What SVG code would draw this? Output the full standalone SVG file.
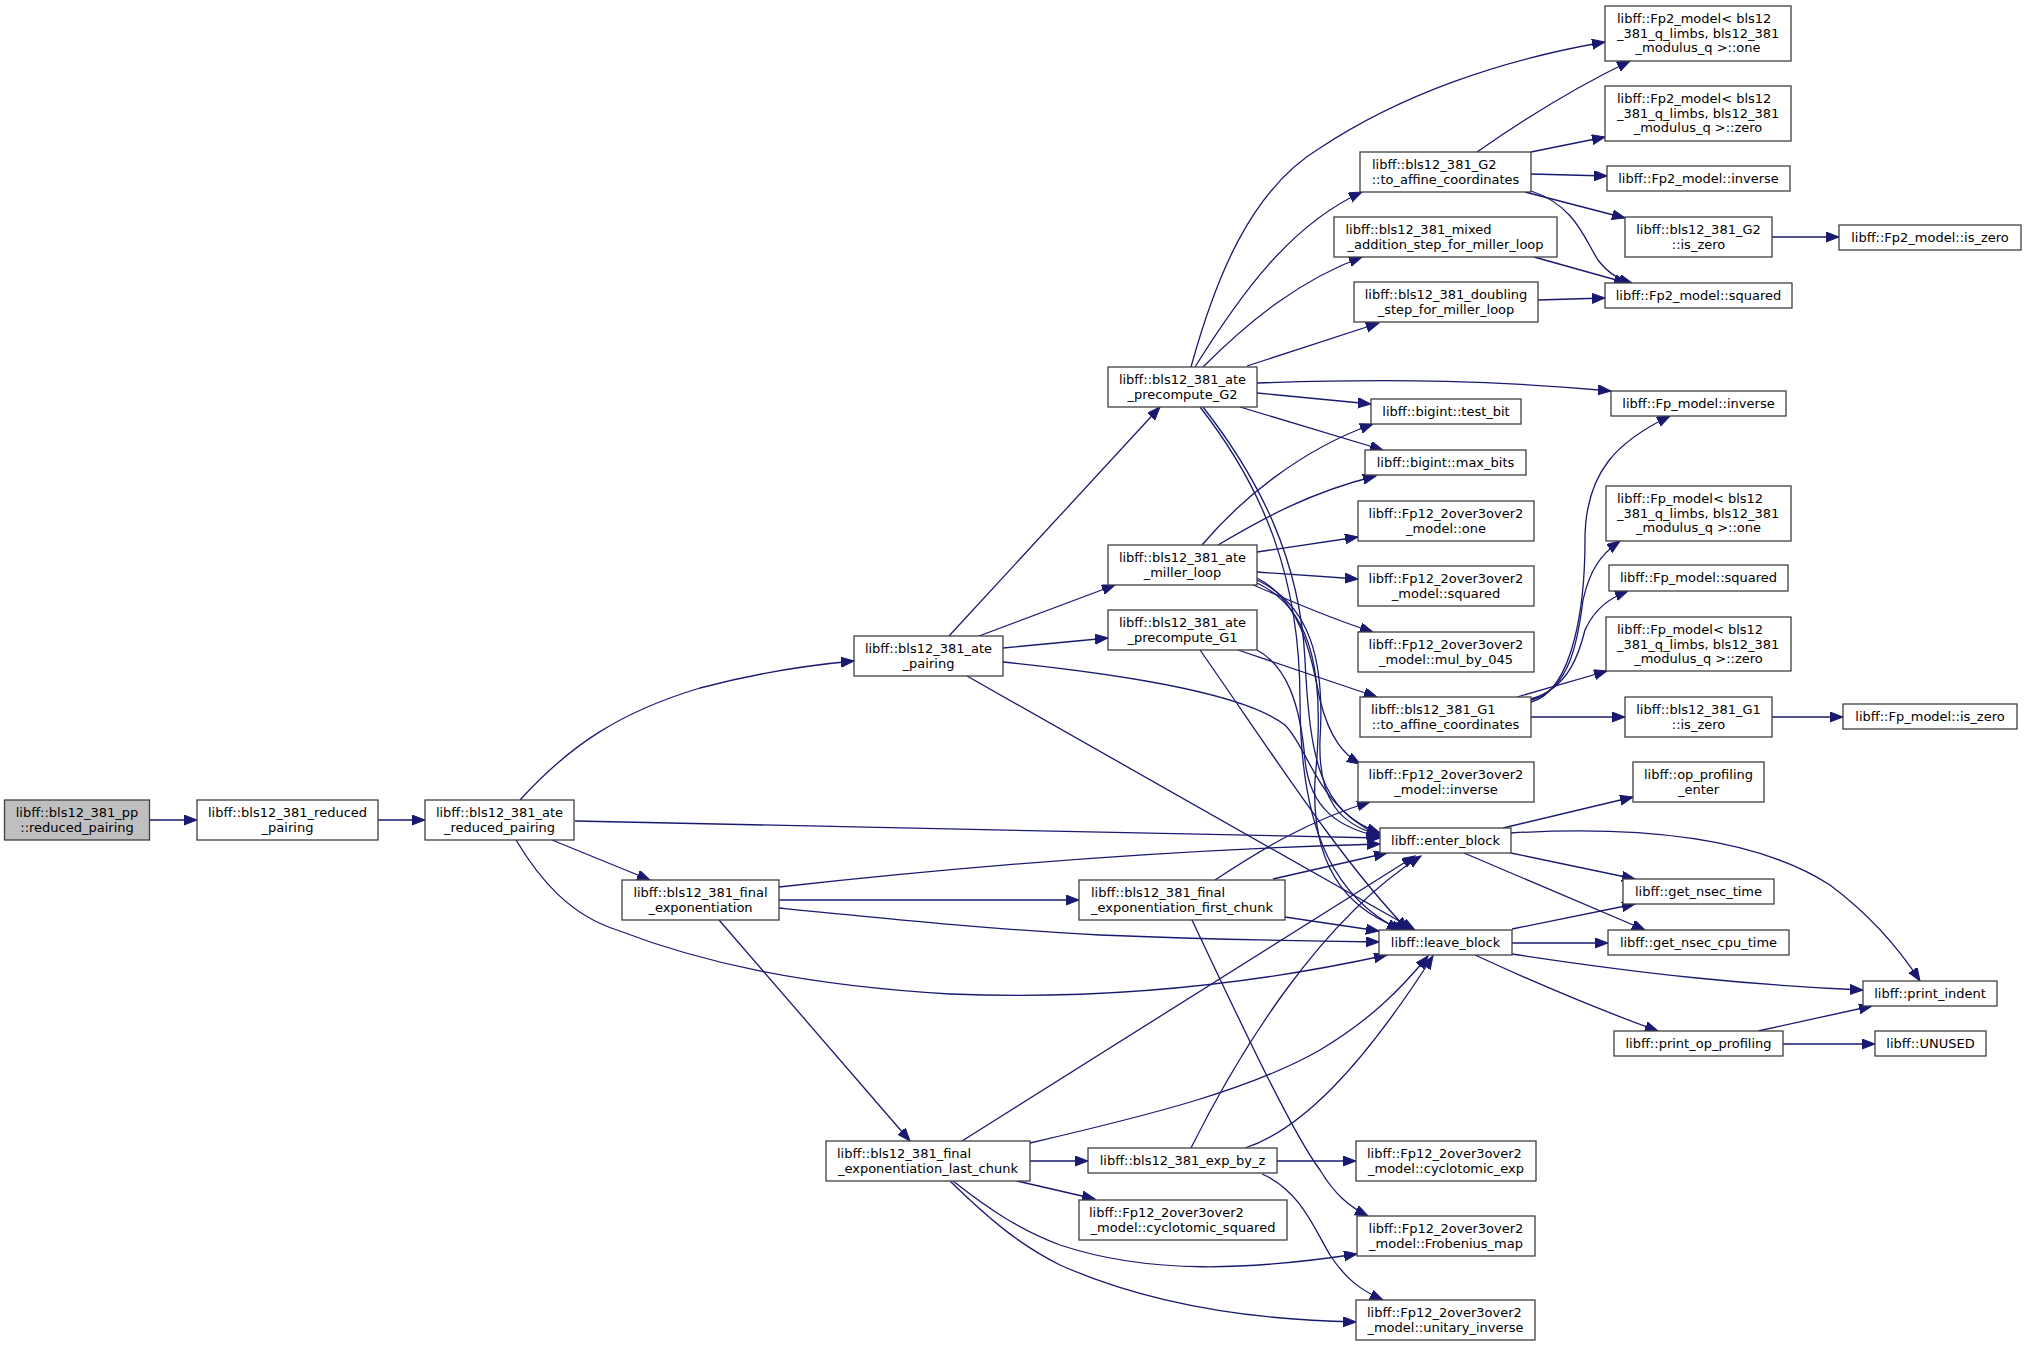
<svg xmlns="http://www.w3.org/2000/svg" width="2027" height="1346" viewBox="0 0 2027 1346">
<defs>
<marker id="ah" markerUnits="userSpaceOnUse" markerWidth="14" markerHeight="11" refX="13" refY="5" orient="auto">
<path d="M0,0 L13,5 L0,10 z" fill="#191970" stroke="#191970" stroke-width="1"/>
</marker>
<style>
rect{fill:#ffffff;stroke:#404040;stroke-width:1.3}
.root rect{fill:#bfbfbf}
text{font-family:"DejaVu Sans","Liberation Sans",sans-serif;font-size:13px;fill:#000000;text-anchor:middle}
text.l{text-anchor:start}
#edges path{fill:none;stroke:#191970;stroke-width:1.3;marker-end:url(#ah)}
</style>
</defs>
<rect x="0" y="0" width="2027" height="1346" style="fill:#ffffff;stroke:none"/>
<g id="edges">
<path d="M150,820 L197,820"/>
<path d="M378,820 L425,820"/>
<path d="M520,800 C570,745 620,712 700,688 C760,672 810,665 854,661"/>
<path d="M575,821 L1380,838"/>
<path d="M552,840 L650,880"/>
<path d="M516,840 C540,880 570,915 617,930 C700,962 800,985 950,994 C1100,1000 1250,985 1387,955"/>
<path d="M949,636 L1160,407"/>
<path d="M979,636 L1115,585"/>
<path d="M1003,648 L1108,638"/>
<path d="M1003,662 C1100,672 1240,690 1285,725 C1310,750 1315,805 1380,836"/>
<path d="M967,676 L1415,930"/>
<path d="M1191,367 C1215,280 1250,190 1320,148 C1400,95 1500,60 1605,42"/>
<path d="M1195,367 C1240,295 1290,225 1362,192"/>
<path d="M1203,367 C1250,320 1300,280 1362,257"/>
<path d="M1247,366 L1379,323"/>
<path d="M1257,383 C1400,378 1500,381 1611,391"/>
<path d="M1257,393 L1371,404"/>
<path d="M1240,407 L1383,450"/>
<path d="M1203,407 C1260,480 1300,560 1305,660 C1310,760 1320,812 1380,833"/>
<path d="M1200,407 C1265,490 1300,580 1300,700 C1300,840 1340,900 1400,930"/>
<path d="M1202,545 C1240,500 1300,450 1373,424"/>
<path d="M1218,545 C1260,520 1310,492 1376,476"/>
<path d="M1257,552 L1358,537"/>
<path d="M1257,572 L1358,579"/>
<path d="M1253,585 C1290,600 1320,615 1373,632"/>
<path d="M1257,578 C1300,600 1310,650 1320,700 C1330,740 1345,755 1360,764"/>
<path d="M1257,580 C1310,605 1325,660 1320,740 C1318,800 1340,825 1380,835"/>
<path d="M1257,583 C1315,610 1325,680 1315,780 C1310,880 1360,915 1405,930"/>
<path d="M1238,650 L1377,697"/>
<path d="M1257,650 C1285,665 1300,700 1305,760 C1310,810 1340,828 1380,837"/>
<path d="M1200,650 C1270,750 1340,860 1408,930"/>
<path d="M1477,152 C1530,115 1580,85 1630,61"/>
<path d="M1531,152 L1605,137"/>
<path d="M1531,174 L1607,176"/>
<path d="M1525,192 L1625,218"/>
<path d="M1531,191 C1575,205 1585,240 1598,260 C1608,273 1618,279 1632,283"/>
<path d="M1534,257 L1627,283"/>
<path d="M1538,300 L1605,298"/>
<path d="M1772,237 L1839,237"/>
<path d="M1531,702 C1575,690 1585,600 1585,540 C1585,470 1620,440 1670,416"/>
<path d="M1531,700 C1570,690 1578,640 1583,600 C1590,570 1600,555 1620,541"/>
<path d="M1531,699 C1570,688 1580,650 1585,630 C1595,608 1610,598 1628,591"/>
<path d="M1517,697 L1607,671"/>
<path d="M1531,717 L1625,717"/>
<path d="M1772,717 L1843,717"/>
<path d="M1503,828 L1633,797"/>
<path d="M1511,853 L1635,879"/>
<path d="M1464,853 L1645,930"/>
<path d="M1511,833 C1650,825 1760,840 1830,885 C1870,915 1900,950 1920,981"/>
<path d="M1512,929 L1635,904"/>
<path d="M1512,943 L1608,943"/>
<path d="M1512,954 C1650,975 1750,985 1863,990"/>
<path d="M1475,955 C1540,985 1600,1010 1658,1031"/>
<path d="M1758,1031 L1872,1006"/>
<path d="M1783,1044 L1875,1044"/>
<path d="M779,887 C950,868 1150,850 1380,844"/>
<path d="M779,900 L1079,900"/>
<path d="M779,908 C900,920 1000,930 1100,935 C1200,939 1300,941 1379,942"/>
<path d="M719,920 L910,1141"/>
<path d="M1215,880 C1260,850 1310,820 1370,802"/>
<path d="M1273,879 L1387,853"/>
<path d="M1285,917 L1379,931"/>
<path d="M1192,920 C1230,1000 1290,1130 1320,1170 C1335,1195 1350,1207 1368,1216"/>
<path d="M962,1141 L1415,856"/>
<path d="M1030,1143 C1150,1115 1250,1090 1320,1050 C1370,1020 1400,990 1428,956"/>
<path d="M1030,1161 L1088,1161"/>
<path d="M1017,1181 L1095,1199"/>
<path d="M953,1181 C990,1210 1020,1230 1060,1245 C1150,1275 1250,1270 1357,1254"/>
<path d="M950,1181 C990,1220 1020,1245 1060,1265 C1150,1305 1250,1320 1356,1322"/>
<path d="M1191,1148 C1240,1050 1320,920 1421,856"/>
<path d="M1245,1148 C1300,1130 1360,1070 1433,956"/>
<path d="M1277,1161 L1356,1161"/>
<path d="M1262,1174 C1300,1190 1315,1230 1330,1255 C1345,1278 1360,1290 1383,1300"/>
</g>
<g id="n1" class="root"><rect x="4.5" y="800" width="145" height="40"/><text x="77" y="816.5">libff::bls12_381_pp</text><text x="77" y="831.5">::reduced_pairing</text></g>
<g id="n2"><rect x="197" y="800" width="181" height="40"/><text x="287.5" y="816.5">libff::bls12_381_reduced</text><text x="287.5" y="831.5">_pairing</text></g>
<g id="n3"><rect x="425" y="800" width="149" height="40"/><text x="499.5" y="816.5">libff::bls12_381_ate</text><text x="499.5" y="831.5">_reduced_pairing</text></g>
<g id="n4"><rect x="854" y="636" width="149" height="40"/><text x="928.5" y="652.5">libff::bls12_381_ate</text><text x="928.5" y="667.5">_pairing</text></g>
<g id="n5"><rect x="622" y="880" width="157" height="40"/><text x="700.5" y="896.5">libff::bls12_381_final</text><text x="700.5" y="911.5">_exponentiation</text></g>
<g id="n6"><rect x="1108" y="367" width="149" height="40"/><text x="1182.5" y="383.5">libff::bls12_381_ate</text><text x="1182.5" y="398.5">_precompute_G2</text></g>
<g id="n7"><rect x="1108" y="545" width="149" height="40"/><text x="1182.5" y="561.5">libff::bls12_381_ate</text><text x="1182.5" y="576.5">_miller_loop</text></g>
<g id="n8"><rect x="1108" y="610" width="149" height="40"/><text x="1182.5" y="626.5">libff::bls12_381_ate</text><text x="1182.5" y="641.5">_precompute_G1</text></g>
<g id="n9"><rect x="1079" y="880" width="206" height="40"/><text class="l" x="1091" y="896.5">libff::bls12_381_final</text><text x="1182" y="911.5">_exponentiation_first_chunk</text></g>
<g id="n10"><rect x="826" y="1141" width="204" height="40"/><text class="l" x="837" y="1157.5">libff::bls12_381_final</text><text x="928" y="1172.5">_exponentiation_last_chunk</text></g>
<g id="n11"><rect x="1088" y="1148" width="189" height="25"/><text x="1182.5" y="1165">libff::bls12_381_exp_by_z</text></g>
<g id="n12"><rect x="1079" y="1200" width="208" height="40"/><text class="l" x="1089" y="1216.5">libff::Fp12_2over3over2</text><text x="1183" y="1231.5">_model::cyclotomic_squared</text></g>
<g id="n13"><rect x="1360" y="152" width="171" height="40"/><text class="l" x="1372" y="168.5">libff::bls12_381_G2</text><text x="1445.5" y="183.5">::to_affine_coordinates</text></g>
<g id="n14"><rect x="1334" y="217" width="223" height="40"/><text class="l" x="1345.5" y="233.5">libff::bls12_381_mixed</text><text x="1445.5" y="248.5">_addition_step_for_miller_loop</text></g>
<g id="n15"><rect x="1354" y="282" width="184" height="40"/><text x="1446" y="298.5">libff::bls12_381_doubling</text><text x="1446" y="313.5">_step_for_miller_loop</text></g>
<g id="n16"><rect x="1371" y="399" width="150" height="25"/><text x="1446" y="416">libff::bigint::test_bit</text></g>
<g id="n17"><rect x="1365" y="450" width="161" height="25"/><text x="1445.5" y="467">libff::bigint::max_bits</text></g>
<g id="n18"><rect x="1358" y="501" width="176" height="40"/><text x="1446" y="517.5">libff::Fp12_2over3over2</text><text x="1446" y="532.5">_model::one</text></g>
<g id="n19"><rect x="1358" y="566" width="176" height="40"/><text x="1446" y="582.5">libff::Fp12_2over3over2</text><text x="1446" y="597.5">_model::squared</text></g>
<g id="n20"><rect x="1358" y="632" width="176" height="40"/><text x="1446" y="648.5">libff::Fp12_2over3over2</text><text x="1446" y="663.5">_model::mul_by_045</text></g>
<g id="n21"><rect x="1360" y="697" width="171" height="40"/><text class="l" x="1371" y="713.5">libff::bls12_381_G1</text><text x="1445.5" y="728.5">::to_affine_coordinates</text></g>
<g id="n22"><rect x="1358" y="762" width="176" height="40"/><text x="1446" y="778.5">libff::Fp12_2over3over2</text><text x="1446" y="793.5">_model::inverse</text></g>
<g id="n23"><rect x="1380" y="828" width="131" height="25"/><text x="1445.5" y="845">libff::enter_block</text></g>
<g id="n24"><rect x="1379" y="930" width="133" height="25"/><text x="1445.5" y="947">libff::leave_block</text></g>
<g id="n25"><rect x="1356" y="1141" width="180" height="40"/><text class="l" x="1367" y="1157.5">libff::Fp12_2over3over2</text><text x="1446" y="1172.5">_model::cyclotomic_exp</text></g>
<g id="n26"><rect x="1357" y="1216" width="178" height="40"/><text x="1446" y="1232.5">libff::Fp12_2over3over2</text><text x="1446" y="1247.5">_model::Frobenius_map</text></g>
<g id="n27"><rect x="1356" y="1300" width="179" height="40"/><text class="l" x="1367" y="1316.5">libff::Fp12_2over3over2</text><text x="1445.5" y="1331.5">_model::unitary_inverse</text></g>
<g id="n28"><rect x="1605" y="6" width="186" height="55"/><text class="l" x="1617" y="22.5">libff::Fp2_model&lt; bls12</text><text class="l" x="1617" y="37.5">_381_q_limbs, bls12_381</text><text x="1698" y="52">_modulus_q &gt;::one</text></g>
<g id="n29"><rect x="1605" y="86" width="186" height="55"/><text class="l" x="1617" y="102.5">libff::Fp2_model&lt; bls12</text><text class="l" x="1617" y="117.5">_381_q_limbs, bls12_381</text><text x="1698" y="132">_modulus_q &gt;::zero</text></g>
<g id="n30"><rect x="1607" y="166" width="183" height="25"/><text x="1698.5" y="183">libff::Fp2_model::inverse</text></g>
<g id="n31"><rect x="1625" y="217" width="147" height="40"/><text x="1698.5" y="233.5">libff::bls12_381_G2</text><text x="1698.5" y="248.5">::is_zero</text></g>
<g id="n32"><rect x="1839" y="225" width="182" height="25"/><text x="1930" y="242">libff::Fp2_model::is_zero</text></g>
<g id="n33"><rect x="1605" y="283" width="187" height="25"/><text x="1698.5" y="300">libff::Fp2_model::squared</text></g>
<g id="n34"><rect x="1611" y="391" width="175" height="25"/><text x="1698.5" y="408">libff::Fp_model::inverse</text></g>
<g id="n35"><rect x="1606" y="486" width="185" height="55"/><text class="l" x="1617" y="502.5">libff::Fp_model&lt; bls12</text><text class="l" x="1617" y="517.5">_381_q_limbs, bls12_381</text><text x="1698.5" y="532">_modulus_q &gt;::one</text></g>
<g id="n36"><rect x="1609" y="565" width="179" height="26"/><text x="1698.5" y="582">libff::Fp_model::squared</text></g>
<g id="n37"><rect x="1606" y="617" width="185" height="54"/><text class="l" x="1617" y="633.5">libff::Fp_model&lt; bls12</text><text class="l" x="1617" y="648.5">_381_q_limbs, bls12_381</text><text x="1698.5" y="663">_modulus_q &gt;::zero</text></g>
<g id="n38"><rect x="1625" y="697" width="147" height="40"/><text x="1698.5" y="713.5">libff::bls12_381_G1</text><text x="1698.5" y="728.5">::is_zero</text></g>
<g id="n39"><rect x="1843" y="704" width="174" height="25"/><text x="1930" y="721">libff::Fp_model::is_zero</text></g>
<g id="n40"><rect x="1633" y="762" width="131" height="40"/><text x="1698.5" y="778.5">libff::op_profiling</text><text x="1698.5" y="793.5">_enter</text></g>
<g id="n41"><rect x="1623" y="879" width="151" height="25"/><text x="1698.5" y="896">libff::get_nsec_time</text></g>
<g id="n42"><rect x="1608" y="930" width="181" height="25"/><text x="1698.5" y="947">libff::get_nsec_cpu_time</text></g>
<g id="n43"><rect x="1863" y="981" width="134" height="25"/><text x="1930" y="998">libff::print_indent</text></g>
<g id="n44"><rect x="1614" y="1031" width="169" height="25"/><text x="1698.5" y="1048">libff::print_op_profiling</text></g>
<g id="n45"><rect x="1875" y="1031" width="111" height="25"/><text x="1930.5" y="1048">libff::UNUSED</text></g>
</svg>
